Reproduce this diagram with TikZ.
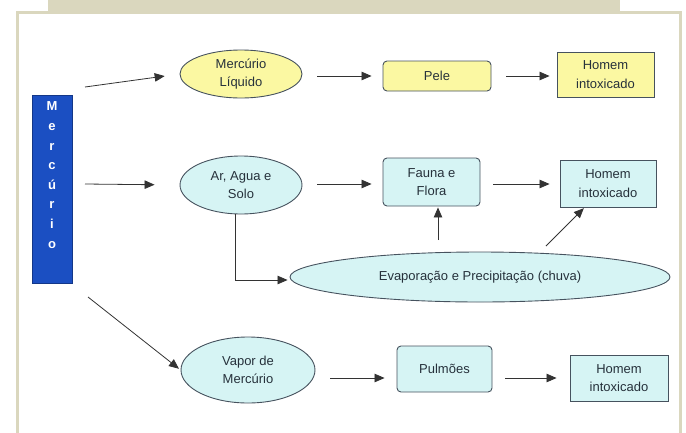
\documentclass[tikz,border=0pt]{standalone}
\usepackage{fontspec}
\setmainfont{Liberation Sans}
\usetikzlibrary{shapes.geometric,arrows.meta,calc}
\definecolor{beige}{HTML}{DAD7BE}
\definecolor{yfill}{HTML}{FBF8A2}
\definecolor{cfill}{HTML}{D6F4F4}
\definecolor{edge}{HTML}{46525E}
\definecolor{mblue}{HTML}{1B4FC2}
\definecolor{txt}{HTML}{26313B}
\tikzset{
  lbl/.style={align=center, font=\fontsize{13}{18.5}\selectfont, text=txt},
  ell/.style={ellipse, draw=edge, line width=0.9pt, inner sep=0pt, lbl},
  rbox/.style={rectangle, rounded corners=4pt, draw=edge, line width=0.9pt, inner sep=0pt, lbl},
  sbox/.style={rectangle, draw=edge, line width=0.9pt, inner sep=0pt, lbl},
  arr/.style={draw=black!80, line width=0.8pt, -{Triangle[length=10pt,width=8.5pt]}},
}
\begin{document}
\begin{tikzpicture}[x=1pt,y=-1pt]
\useasboundingbox (0,0) rectangle (686,432);
% background decorations
\fill[beige] (48,0) rectangle (620,11);
\draw[beige, line width=3pt] (17,440) -- (17,12.5) -- (680,12.5) -- (680,440);
% Mercurio box
\node[rectangle, fill=mblue, draw=mblue!70!black, line width=0.6pt, minimum width=40pt, minimum height=188pt, inner sep=0pt] (m) at (52,189) {};
\node[anchor=north, inner sep=0pt, text=white, font=\fontsize{13}{19.6}\selectfont\bfseries, align=center] (mt) at ([yshift=-7pt]m.north)
  {M\\e\\r\\c\\ú\\r\\i\\o};
% row 1
\node[ell, fill=yfill, minimum width=122pt, minimum height=48pt] (e1) at (241,74) {Mercúrio\\Líquido};
\node[rbox, fill=yfill, minimum width=108pt, minimum height=30pt] (pele) at (437,76) {Pele};
\node[sbox, fill=yfill, minimum width=97pt, minimum height=45pt] (h1) at (605.5,74.5) {Homem\\intoxicado};
% row 2
\node[ell, fill=cfill, minimum width=122pt, minimum height=58pt] (e2) at (241,185) {Ar, Agua e\\Solo};
\node[rbox, fill=cfill, minimum width=97pt, minimum height=48pt] (fauna) at (431.5,182) {Fauna e\\Flora};
\node[sbox, fill=cfill, minimum width=96pt, minimum height=47pt] (h2) at (608,183.5) {Homem\\intoxicado};
\node[ell, fill=cfill, minimum width=380pt, minimum height=50pt] (big) at (480,277) {Evaporação e Precipitação (chuva)};
% row 3
\node[ell, fill=cfill, minimum width=134pt, minimum height=66pt] (e3) at (248,370) {Vapor de\\Mercúrio};
\node[rbox, fill=cfill, minimum width=95pt, minimum height=46pt] (pulm) at (444.5,369) {Pulmões};
\node[sbox, fill=cfill, minimum width=98pt, minimum height=46pt] (h3) at (619,378) {Homem\\intoxicado};
% free ends
\coordinate (m1) at (85,87);
\coordinate (m2) at (85,184);
\coordinate (m3) at (88,297);
\coordinate (b1) at (438,240);
\coordinate (b2) at (546,246);
% connectors
\draw[arr, shorten >=15pt] (m1) -- (e1.west);
\draw[arr, shorten >=25pt] (m2) -- (e2.west);
\draw[arr, shorten >=2pt] (m3) -- (e3.west);
\draw[arr, shorten <=15pt, shorten >=11pt] (e1.east |- pele.west) -- (pele.west);
\draw[arr, shorten <=15pt, shorten >=7pt] (pele.east) -- (h1.west |- pele.east);
\draw[arr, shorten <=15pt, shorten >=11pt] (e2.east |- 0,184) -- (fauna.west |- 0,184);
\draw[arr, shorten <=13pt, shorten >=10pt] (fauna.east |- 0,184) -- (h2.west |- 0,184);
\draw[arr, shorten >=2pt] ([xshift=-6pt]e2.south) |- ([yshift=-3pt]big.west);
\draw[arr, shorten >=1pt] (b1) -- (b1 |- fauna.south);
\draw[arr, shorten >=1pt] (b2) -- ([xshift=25pt]h2.south west);
\draw[arr, shorten <=15pt, shorten >=12pt] (e3.east |- 0,378) -- (pulm.west |- 0,378);
\draw[arr, shorten <=13pt, shorten >=13pt] (pulm.east |- 0,378) -- (h3.west);
\end{tikzpicture}
\end{document}
